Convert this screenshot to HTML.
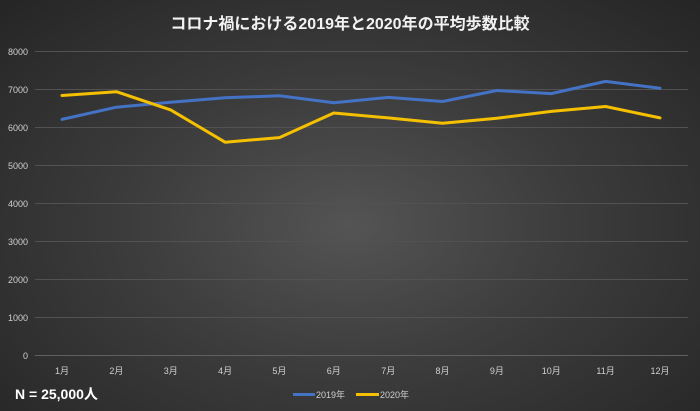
<!DOCTYPE html>
<html><head><meta charset="utf-8"><style>
html,body{margin:0;padding:0;}
body{width:700px;height:411px;overflow:hidden;background:radial-gradient(ellipse at 50% 55%,#545454 0%,#3c3c3c 45%,#252525 100%);font-family:"Liberation Sans","Noto Sans CJK JP",sans-serif;}
</style></head><body>
<svg width="700" height="411" xmlns="http://www.w3.org/2000/svg" style="position:absolute;left:0;top:0">
<text x="350" y="29" fill="#f2f2f2" font-size="16" font-weight="bold" text-anchor="middle" font-family="Liberation Sans,Noto Sans CJK JP,sans-serif">コロナ禍における2019年と2020年の平均歩数比較</text>
<g stroke="#525252" stroke-width="1">
<line x1="35" x2="688" y1="51.5" y2="51.5"/><line x1="35" x2="688" y1="89.5" y2="89.5"/>
<line x1="35" x2="688" y1="127.5" y2="127.5"/><line x1="35" x2="688" y1="165.5" y2="165.5"/>
<line x1="35" x2="688" y1="203.5" y2="203.5"/><line x1="35" x2="688" y1="241.5" y2="241.5"/>
<line x1="35" x2="688" y1="279.5" y2="279.5"/><line x1="35" x2="688" y1="317.5" y2="317.5"/>
<line x1="35" x2="688" y1="355.5" y2="355.5" stroke="#606060"/>
</g>
<g fill="#d0d0d0" font-size="9" text-anchor="end" font-family="Liberation Sans,sans-serif">
<text x="28" y="55">8000</text><text x="28" y="93">7000</text><text x="28" y="131">6000</text>
<text x="28" y="169">5000</text><text x="28" y="207">4000</text><text x="28" y="245">3000</text>
<text x="28" y="283">2000</text><text x="28" y="321">1000</text><text x="28" y="359">0</text>
</g>
<g fill="#d0d0d0" font-size="9" text-anchor="middle" font-family="Liberation Sans,Noto Sans CJK JP,sans-serif">
<text x="62" y="374">1月</text><text x="116.4" y="374">2月</text><text x="170.7" y="374">3月</text>
<text x="225.1" y="374">4月</text><text x="279.4" y="374">5月</text><text x="333.8" y="374">6月</text>
<text x="388.2" y="374">7月</text><text x="442.5" y="374">8月</text><text x="496.9" y="374">9月</text>
<text x="551.2" y="374">10月</text><text x="605.6" y="374">11月</text><text x="660" y="374">12月</text>
</g>
<polyline fill="none" stroke="#4472c4" stroke-width="3" stroke-linejoin="round" stroke-linecap="round" points="62,119.4 116.4,107.2 170.7,102.3 225.1,97.7 279.4,95.8 333.8,102.7 388.2,97.4 442.5,101.5 496.9,90.5 551.2,93.6 605.6,81.4 660,88.2"/>
<polyline fill="none" stroke="#f5c000" stroke-width="3" stroke-linejoin="round" stroke-linecap="round" points="62,95.5 116.4,91.7 170.7,109.9 225.1,142.2 279.4,137.6 333.8,113 388.2,117.9 442.5,123.2 496.9,118.3 551.2,111.4 605.6,106.5 660,117.9"/>
<line x1="293" x2="315" y1="394.5" y2="394.5" stroke="#4472c4" stroke-width="3"/>
<text x="316" y="398" fill="#d0d0d0" font-size="9" font-family="Liberation Sans,Noto Sans CJK JP,sans-serif">2019年</text>
<line x1="356" x2="379" y1="394.5" y2="394.5" stroke="#f5c000" stroke-width="3"/>
<text x="380" y="398" fill="#d0d0d0" font-size="9" font-family="Liberation Sans,Noto Sans CJK JP,sans-serif">2020年</text>
<text x="15" y="399" fill="#ffffff" font-size="14" font-weight="bold" font-family="Liberation Sans,Noto Sans CJK JP,sans-serif">N = 25,000人</text>
</svg>
</body></html>
